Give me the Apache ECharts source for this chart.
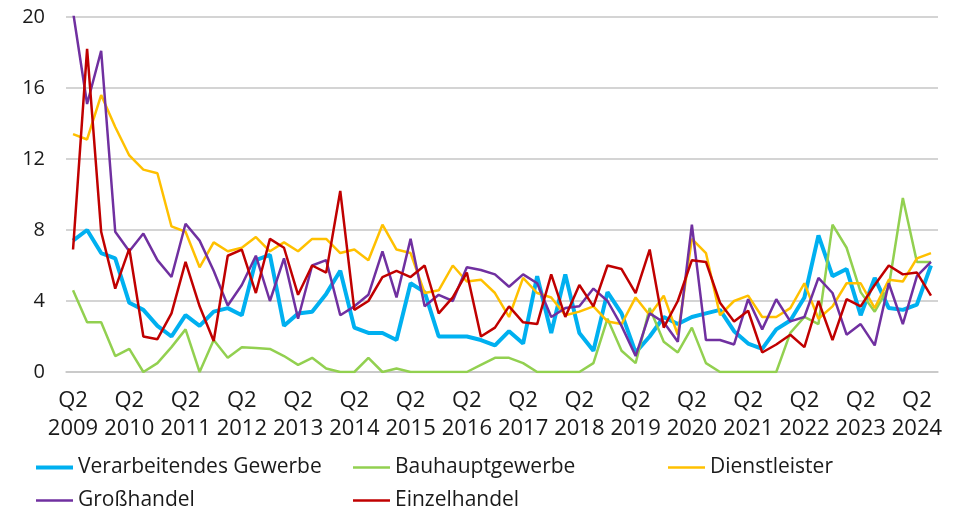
<!DOCTYPE html>
<html>
<head>
<meta charset="utf-8">
<script src="https://cdn.jsdelivr.net/npm/echarts@6/dist/echarts.min.js"></script>
<style>
  html, body { margin: 0; padding: 0; background: #fff; }
  #chart { width: 958px; height: 512px; }
</style>
</head>
<body>
<div id="chart"></div>
<script>
const quarters = [
  'Q2 2009', 'Q3 2009', 'Q4 2009', 'Q1 2010', 'Q2 2010', 'Q3 2010', 'Q4 2010', 'Q1 2011',
  'Q2 2011', 'Q3 2011', 'Q4 2011', 'Q1 2012', 'Q2 2012', 'Q3 2012', 'Q4 2012', 'Q1 2013',
  'Q2 2013', 'Q3 2013', 'Q4 2013', 'Q1 2014', 'Q2 2014', 'Q3 2014', 'Q4 2014', 'Q1 2015',
  'Q2 2015', 'Q3 2015', 'Q4 2015', 'Q1 2016', 'Q2 2016', 'Q3 2016', 'Q4 2016', 'Q1 2017',
  'Q2 2017', 'Q3 2017', 'Q4 2017', 'Q1 2018', 'Q2 2018', 'Q3 2018', 'Q4 2018', 'Q1 2019',
  'Q2 2019', 'Q3 2019', 'Q4 2019', 'Q1 2020', 'Q2 2020', 'Q3 2020', 'Q4 2020', 'Q1 2021',
  'Q2 2021', 'Q3 2021', 'Q4 2021', 'Q1 2022', 'Q2 2022', 'Q3 2022', 'Q4 2022', 'Q1 2023',
  'Q2 2023', 'Q3 2023', 'Q4 2023', 'Q1 2024', 'Q2 2024', 'Q3 2024'
]

// Verarbeitendes Gewerbe
const verarbeitend = [
  7.4, 8.0, 6.7, 6.4, 3.9, 3.5, 2.6, 2.0, 3.2, 2.6, 3.4, 3.6, 3.2, 6.3, 6.6, 2.6,
  3.3, 3.4, 4.4, 5.7, 2.5, 2.2, 2.2, 1.8, 5.0, 4.5, 2.0, 2.0, 2.0, 1.8, 1.5, 2.3,
  1.6, 5.4, 2.2, 5.5, 2.2, 1.2, 4.5, 3.3, 1.1, 2.0, 3.1, 2.7, 3.1, 3.3, 3.5, 2.3,
  1.6, 1.3, 2.4, 2.9, 4.2, 7.7, 5.4, 5.8, 3.2, 5.3, 3.6, 3.5, 3.8, 6.0
]
// Bauhauptgewerbe
const bauhaupt = [
  4.6, 2.8, 2.8, 0.9, 1.3, 0.0, 0.5, 1.4, 2.4, 0.0, 1.8, 0.8, 1.4, 1.35, 1.3, 0.9,
  0.4, 0.8, 0.2, 0.0, 0.0, 0.8, 0.0, 0.2, 0.0, 0.0, 0.0, 0.0, 0.0, 0.4, 0.8, 0.8,
  0.5, 0.0, 0.0, 0.0, 0.0, 0.5, 3.0, 1.2, 0.5, 3.6, 1.7, 1.1, 2.5, 0.5, 0.0, 0.0,
  0.0, 0.0, 0.0, 2.2, 3.1, 2.7, 8.3, 7.0, 4.5, 3.4, 4.8, 9.8, 6.2, 6.2
]
// Dienstleister
const dienstleister = [
  13.4, 13.1, 15.6, 13.8, 12.2, 11.4, 11.2, 8.2, 7.9, 5.9, 7.3, 6.8, 7.0, 7.6, 6.8, 7.3,
  6.8, 7.5, 7.5, 6.7, 6.9, 6.3, 8.3, 6.9, 6.7, 4.45, 4.6, 6.0, 5.1, 5.2, 4.45, 3.1,
  5.3, 4.45, 4.2, 3.2, 3.4, 3.7, 2.85, 2.7, 4.2, 3.2, 4.3, 2.1, 7.5, 6.7, 3.2, 4.0,
  4.3, 3.1, 3.1, 3.6, 5.0, 3.0, 3.7, 5.0, 5.0, 3.6, 5.2, 5.1, 6.4, 6.7
]
// Großhandel
const grosshandel = [
  20.3, 15.1, 18.1, 7.9, 6.8, 7.8, 6.3, 5.35, 8.35, 7.4, 5.7, 3.75, 4.9, 6.55, 4.0, 6.4,
  3.0, 6.0, 6.3, 3.2, 3.7, 4.35, 6.8, 4.2, 7.5, 3.7, 4.35, 4.0, 5.9, 5.75, 5.5, 4.8,
  5.5, 5.0, 3.1, 3.6, 3.7, 4.7, 4.0, 2.6, 0.9, 3.3, 2.8, 1.7, 8.3, 1.8, 1.8, 1.55,
  4.1, 2.4, 4.1, 2.85, 3.1, 5.3, 4.45, 2.1, 2.7, 1.5, 5.0, 2.7, 5.4, 6.2
]
// Einzelhandel
const einzelhandel = [
  6.9, 18.2, 7.9, 4.7, 6.95, 2.0, 1.85, 3.3, 6.2, 3.7, 1.75, 6.55, 6.9, 4.45, 7.5, 7.0,
  4.35, 6.0, 5.6, 10.2, 3.5, 4.0, 5.35, 5.7, 5.35, 6.0, 3.3, 4.2, 5.6, 2.0, 2.5, 3.7,
  2.8, 2.7, 5.5, 3.1, 4.9, 3.7, 6.0, 5.8, 4.45, 6.9, 2.5, 4.0, 6.3, 6.2, 3.9, 2.85,
  3.45, 1.1, 1.55, 2.1, 1.4, 4.0, 1.8, 4.1, 3.7, 4.9, 6.0, 5.5, 5.6, 4.3
]

const seriesDefs = [
  { name: 'Verarbeitendes Gewerbe', data: verarbeitend, color: '#00B0F0', width: 4 },
  { name: 'Bauhauptgewerbe', data: bauhaupt, color: '#92D050', width: 2.5 },
  { name: 'Dienstleister', data: dienstleister, color: '#FFC000', width: 2.5 },
  { name: 'Großhandel', data: grosshandel, color: '#7030A0', width: 2.5 },
  { name: 'Einzelhandel', data: einzelhandel, color: '#C00000', width: 2.5 }
]

// legend slots: [left, top]
const legendPos = [[36, 457], [353, 457], [668, 457], [36, 490], [353, 490]]

const FONT = '"Open Sans", sans-serif'

const chart = echarts.init(document.getElementById('chart'))

chart.setOption({
  animation: false,
  backgroundColor: '#fff',
  textStyle: { fontFamily: FONT },
  grid: { left: 66, right: 20, top: 17, bottom: 140, containLabel: false },
  legend: seriesDefs.map((s, i) => ({
    data: [s.name],
    left: legendPos[i][0],
    top: legendPos[i][1],
    padding: 0,
    icon: 'rect',
    itemWidth: 37,
    itemHeight: s.width,
    textStyle: { fontFamily: FONT, fontSize: 21, color: '#1a1a1a' },
    selectedMode: false
  })),
  xAxis: {
    type: 'category',
    data: quarters,
    boundaryGap: true,
    axisTick: { show: false },
    axisLine: { lineStyle: { color: '#c6c6c6', width: 1.5 } },
    axisLabel: {
      interval: 3,
      margin: 14,
      fontSize: 22,
      lineHeight: 28.5,
      color: '#1a1a1a',
      formatter: v => v.replace(' ', '\n')
    }
  },
  yAxis: {
    type: 'value',
    min: 0,
    max: 20,
    interval: 4,
    axisLine: { show: false },
    axisTick: { show: false },
    splitLine: { lineStyle: { color: '#c6c6c6', width: 1.5 } },
    axisLabel: { margin: 21, fontSize: 20, color: '#1a1a1a' }
  },
  series: seriesDefs.map(s => ({
    name: s.name,
    type: 'line',
    data: s.data,
    symbol: 'none',
    color: s.color,
    lineStyle: { color: s.color, width: s.width },
    itemStyle: { color: s.color }
  }))
})
</script>
</body>
</html>
